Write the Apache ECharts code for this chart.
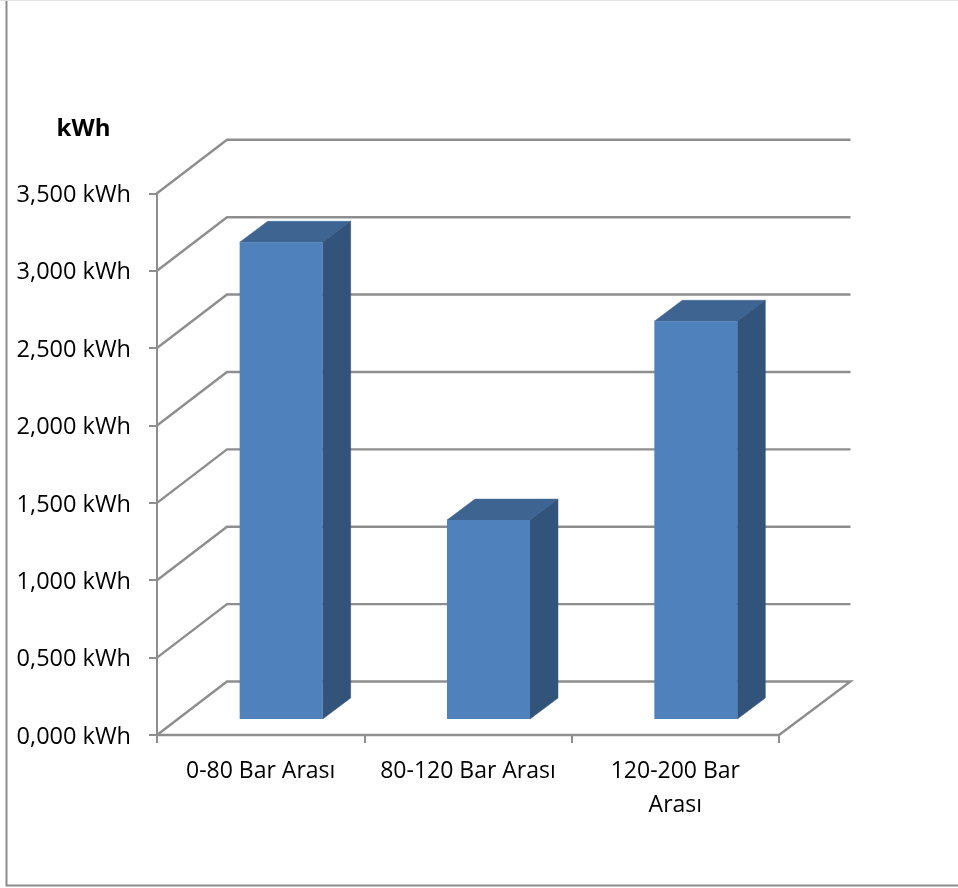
<!DOCTYPE html>
<html>
<head>
<meta charset="utf-8">
<style>html,body{margin:0;padding:0;background:#fff}#chart{width:958px;height:888px}</style>
<script src="https://cdn.jsdelivr.net/npm/echarts@6/dist/echarts.min.js"></script>
</head>
<body>
<div id="chart"></div>
<script>
// Energy consumption per pressure band
const categories = ['0-80 Bar Arası', '80-120 Bar Arası', '120-200 Bar\nArası'];
const energyKwh = [3.08, 1.285, 2.57];
const yTicks = [0, 0.5, 1, 1.5, 2, 2.5, 3, 3.5];

// Oblique projection used for the walls and the bar boxes
const WALL_DX = 70, WALL_DY = 53.5, WALL_RIGHT_DX = 71.5;
const BAR_INSET_DX = 20.5, BAR_INSET_DY = 16;
const BAR_DX = 28, BAR_DY = 21;
const BAR_WIDTH = 83;
const AXIS_COLOR = '#8e8e8e';
const FONT = '"Open Sans", "Noto Sans", sans-serif';

function renderWall(params, api) {
  const cs = params.coordSys;
  const y = api.coord([0, api.value(0)])[1];
  const x0 = cs.x, x1 = cs.x + cs.width;
  const pts = [[x0, y], [x0 + WALL_DX, y - WALL_DY], [x1 + WALL_RIGHT_DX, y - WALL_DY]];
  if (api.value(0) === 0) pts.push([x1, y]);
  return {
    type: 'polyline',
    shape: { points: pts },
    style: { fill: null, stroke: AXIS_COLOR, lineWidth: 2.4 }
  };
}

function renderBar(params, api) {
  const base = api.coord([api.value(0), 0]);
  const top = api.coord([api.value(0), api.value(1)]);
  const l = base[0] + BAR_INSET_DX - BAR_WIDTH / 2;
  const r = l + BAR_WIDTH;
  const t = top[1] - BAR_INSET_DY;
  const b = base[1] - BAR_INSET_DY;
  return {
    type: 'group',
    children: [
      { type: 'polygon',
        shape: { points: [[l, t], [l + BAR_DX, t - BAR_DY], [r + BAR_DX, t - BAR_DY], [r, t]] },
        style: { fill: '#3e6592', stroke: '#3e6592', lineWidth: 0.5 } },
      { type: 'polygon',
        shape: { points: [[r, t], [r + BAR_DX, t - BAR_DY], [r + BAR_DX, b - BAR_DY], [r, b]] },
        style: { fill: '#32547b', stroke: '#32547b', lineWidth: 0.5 } },
      { type: 'rect',
        shape: { x: l, y: t, width: BAR_WIDTH, height: b - t },
        style: { fill: '#4f81bd' } }
    ]
  };
}

const chart = echarts.init(document.getElementById('chart'), null, { renderer: 'canvas' });
chart.setOption({
  animation: false,
  backgroundColor: '#ffffff',
  title: {
    text: 'kWh',
    left: 78.5,
    top: 112,
    textAlign: 'center',
    textStyle: { fontFamily: FONT, fontSize: 24, fontWeight: 'bold', color: '#000' }
  },
  grid: { left: 157, right: 179, top: 193.3, bottom: 153 },
  xAxis: {
    type: 'category',
    data: categories,
    boundaryGap: true,
    axisLine: { lineStyle: { color: AXIS_COLOR, width: 2.4 } },
    axisTick: { show: true, alignWithLabel: false, length: 8, lineStyle: { color: AXIS_COLOR, width: 2 } },
    axisLabel: {
      interval: 0, margin: 19, color: '#000', fontFamily: FONT, fontSize: 23,
      lineHeight: 34, hideOverlap: false
    }
  },
  yAxis: {
    type: 'value',
    min: 0, max: 3.5, interval: 0.5,
    splitLine: { show: false },
    axisLine: { show: true, lineStyle: { color: AXIS_COLOR, width: 2 } },
    axisTick: { show: true, length: 8, lineStyle: { color: AXIS_COLOR, width: 2 } },
    axisLabel: {
      margin: 26,
      formatter: v => '{tick|' + v.toFixed(3).replace('.', ',') + ' kWh}',
      rich: {
        tick: { color: '#000', fontFamily: FONT, fontSize: 23.5, padding: [4, 0, 0, 0] }
      }
    }
  },
  graphic: [
    { type: 'rect', z: -1, silent: true,
      shape: { x: 6.5, y: -5, width: 960, height: 890.5 },
      style: { fill: null, stroke: '#8c8c8c', lineWidth: 2 } },
    { type: 'line', z: -1, silent: true,
      shape: { x1: 0, y1: 0.5, x2: 958, y2: 0.5 },
      style: { stroke: '#e3e3e3', lineWidth: 1 } }
  ],
  series: [
    { type: 'custom', renderItem: renderWall, data: yTicks.map(v => [v]),
      encode: { y: 0 }, z: 1, silent: true },
    { type: 'custom', renderItem: renderBar,
      data: energyKwh.map((v, i) => [i, v]),
      encode: { x: 0, y: 1 }, z: 2, silent: true }
  ]
});
</script>
</body>
</html>
